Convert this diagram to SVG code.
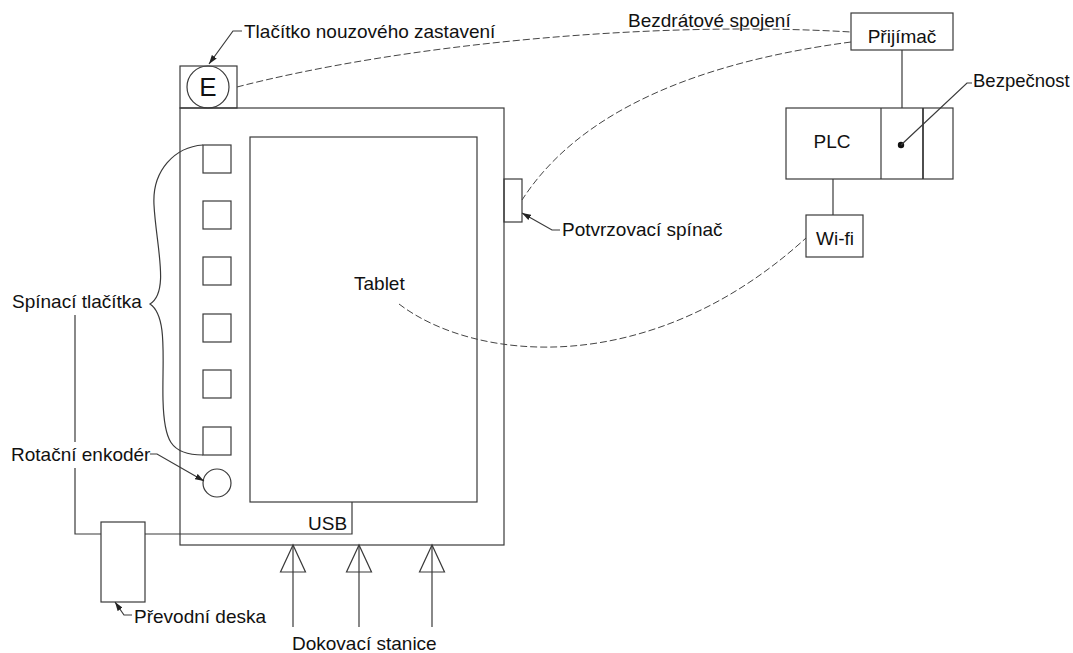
<svg xmlns="http://www.w3.org/2000/svg" width="1073" height="653" viewBox="0 0 1073 653">
<style>
.s{fill:none;stroke:#3a3a3a;stroke-width:1.2}
.d{fill:none;stroke:#444;stroke-width:1;stroke-dasharray:7 3}
.t{font-family:"Liberation Sans",Arial,sans-serif;font-size:19px;fill:#111}
</style>
<defs>
<marker id="ah" markerUnits="userSpaceOnUse" markerWidth="9" markerHeight="6" refX="9" refY="3" orient="auto">
<path d="M0,0 L9,3 L0,6 z" fill="#222"/>
</marker>
</defs>
<rect width="1073" height="653" fill="#fff"/>

<g id="tablet-body">
<rect class="s" x="180" y="108" width="324" height="437"/>
</g>
<g id="screen">
<rect class="s" x="250" y="137" width="227" height="365"/>
<text class="t" x="354" y="290">Tablet</text>
</g>
<g id="usb">
<polyline class="s" points="352,502 352,534 145,534"/>
<text class="t" x="308" y="530">USB</text>
</g>
<g id="estop">
<rect class="s" x="180" y="66" width="57" height="42"/>
<circle class="s" cx="208" cy="87" r="21"/>
<text class="t" x="208" y="96" text-anchor="middle" style="font-size:26px">E</text>
</g>
<g id="buttons">
<rect class="s" x="203" y="145" width="28" height="28"/>
<rect class="s" x="203" y="201" width="28" height="28"/>
<rect class="s" x="203" y="257" width="28" height="28"/>
<rect class="s" x="203" y="314" width="28" height="28"/>
<rect class="s" x="203" y="370" width="28" height="28"/>
<rect class="s" x="203" y="427" width="28" height="28"/>
</g>
<g id="encoder">
<circle class="s" cx="217" cy="483" r="14"/>
</g>
<g id="confirm-switch">
<rect class="s" x="504" y="179" width="18" height="43"/>
</g>
<g id="converter">
<rect class="s" x="101" y="522" width="44" height="80"/>
</g>
<g id="receiver">
<rect class="s" x="851" y="13" width="102" height="37"/>
<text class="t" x="902" y="43" text-anchor="middle">Přijímač</text>
</g>
<g id="plc">
<rect class="s" x="786" y="108" width="167" height="71"/>
<line class="s" x1="881" y1="108" x2="881" y2="179"/>
<line class="s" x1="923" y1="108" x2="923" y2="179" style="stroke-width:1.8"/>
<text class="t" x="832" y="148" text-anchor="middle">PLC</text>
<circle cx="901" cy="145" r="3.2" fill="#111"/>
</g>
<g id="wifi">
<rect class="s" x="806" y="215" width="57" height="42"/>
<text class="t" x="835" y="245" text-anchor="middle">Wi-fi</text>
</g>
<g id="dock">
<line class="s" x1="293" y1="545" x2="293" y2="627"/>
<polygon class="s" points="293,545 280.5,572 305.5,572"/>
<line class="s" x1="359" y1="545" x2="359" y2="627"/>
<polygon class="s" points="359,545 346.5,572 371.5,572"/>
<line class="s" x1="432" y1="545" x2="432" y2="627"/>
<polygon class="s" points="432,545 419.5,572 444.5,572"/>
<text class="t" x="292" y="650">Dokovací stanice</text>
</g>

<g id="connectors">
<path class="d" d="M237,87 C400,45 650,20 851,32"/>
<path class="d" d="M851,42 C700,62 580,110 522,200"/>
<path class="d" d="M399,304 C475,362 650,380 806,238"/>
<line class="s" x1="902" y1="50" x2="902" y2="108"/>
<line class="s" x1="833" y1="179" x2="833" y2="215"/>
<polyline class="s" points="101,534 75,534 75,468"/>
<line class="s" x1="75" y1="442" x2="75" y2="315"/>
<path class="s" d="M203,145 C175,147 152,170 154,205 C156,245 170,292 150,304 C168,316 162,360 163,400 C164,440 170,455 203,455"/>
<polyline class="s" points="242,31 233,31 209,64" marker-end="url(#ah)"/>
<polyline class="s" points="150,454 157,454 204,481" marker-end="url(#ah)"/>
<polyline class="s" points="560,230 552,230 522,213" marker-end="url(#ah)"/>
<polyline class="s" points="972,83 967,83 901,145"/>
<polyline class="s" points="132,615 124,615 115,602" marker-end="url(#ah)"/>
</g>

<g id="labels">
<text class="t" x="244" y="38">Tlačítko nouzového zastavení</text>
<text class="t" x="628" y="27">Bezdrátové spojení</text>
<text class="t" x="973" y="87" style="font-size:18.5px">Bezpečnost</text>
<text class="t" x="562" y="236">Potvrzovací spínač</text>
<text class="t" x="12" y="308">Spínací tlačítka</text>
<text class="t" x="11" y="461">Rotační enkodér</text>
<text class="t" x="134" y="623">Převodní deska</text>
</g>
</svg>
